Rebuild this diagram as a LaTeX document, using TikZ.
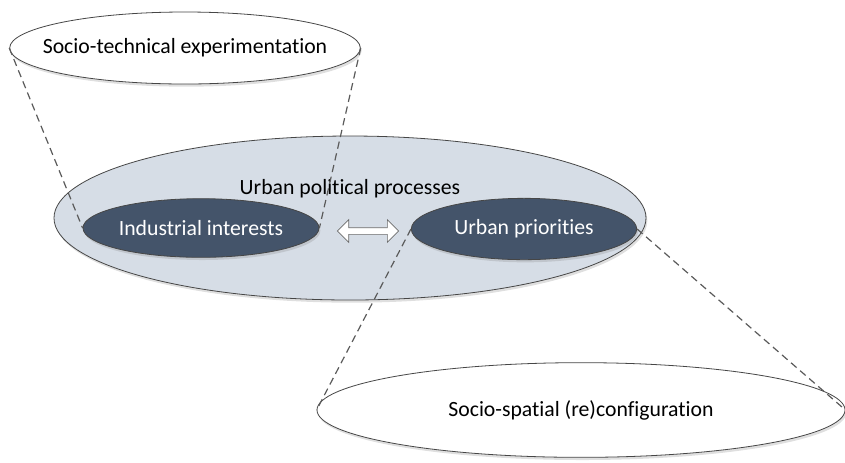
\documentclass[tikz,border=0pt]{standalone}
\usepackage{fontspec}
\setmainfont{Carlito}[Ligatures=NoCommon]
\usetikzlibrary{shapes.geometric,shapes.arrows,shadows}

\definecolor{slatedark}{RGB}{68,84,106}
\definecolor{slatelight}{RGB}{214,221,230}
\definecolor{rimgray}{RGB}{70,70,70}
\definecolor{dashgray}{RGB}{90,90,90}

\tikzset{
  bubble/.style={ellipse, draw=rimgray, line width=0.6pt, inner ysep=0pt, inner xsep=-20pt,
    font=\fontsize{16.3}{19}\selectfont,
    drop shadow={opacity=0.25, shadow xshift=1pt, shadow yshift=-2pt}},
  zoomline/.style={dashgray, line width=0.9pt, dash pattern=on 5.5pt off 3.5pt}
}

\begin{document}
\begin{tikzpicture}[x=0.75pt, y=-0.75pt]
\useasboundingbox (0,0) rectangle (845,462);

% outer process
\node[bubble, fill=slatelight, minimum width=444pt, minimum height=123pt] (proc) at (350,218) {};
\node[font=\fontsize{16.3}{19}\selectfont] (proclabel) at (350,189) {Urban political processes};

% the two sides
\node[bubble, fill=slatedark, text=white, minimum width=177pt, minimum height=44pt] (ind) at (201,228) {Industrial interests};
\node[bubble, fill=slatedark, text=white, minimum width=169pt, minimum height=46pt] (prio) at (524,229) {Urban priorities};

% exchange between them
\node[double arrow, draw=rimgray!80, fill=white, line width=0.5pt, minimum height=46pt,
  minimum width=17pt, double arrow head extend=3pt, inner sep=1pt] (swap) at (368,231) {};

% zoomed views
\node[bubble, fill=white, minimum width=263pt, minimum height=54pt] (tech) at (185,48) {Socio-technical experimentation};
\node[bubble, fill=white, minimum width=396pt, minimum height=71pt] (spat) at (581,410) {Socio-spatial (re)configuration};

% dashed guides
\draw[zoomline] (tech.west) -- (ind.west);
\draw[zoomline] (tech.east) -- (ind.east);
\draw[zoomline] (prio.west) -- (spat.west);
\draw[zoomline] (prio.east) -- (spat.east);

\end{tikzpicture}
\end{document}
